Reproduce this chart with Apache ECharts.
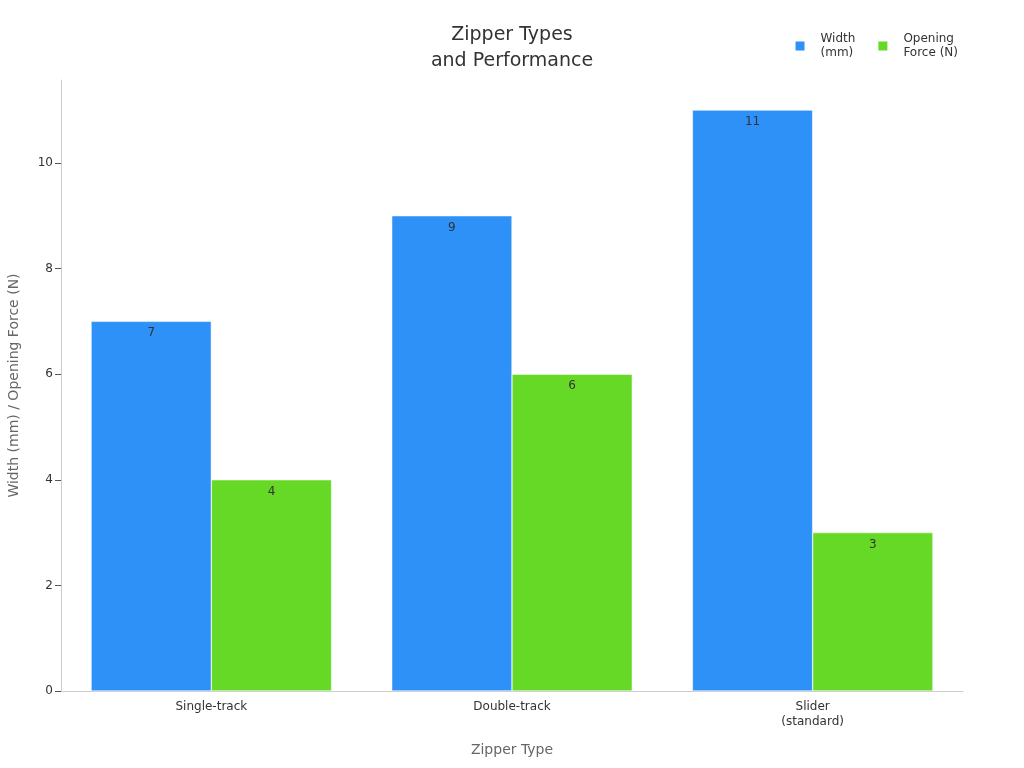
<!DOCTYPE html>
<html>
<head>
<meta charset="utf-8">
<script src="https://cdn.jsdelivr.net/npm/echarts@6/dist/echarts.min.js"></script>
<style>
  html, body { margin: 0; padding: 0; background: #fff; }
  #grafica { width: 1024px; height: 768px; }
</style>
</head>
<body>
<div id="grafica"></div>
<script>
let categorias = ['Single-track', 'Double-track', 'Slider\n(standard)'];
let anchos = [7, 9, 11];
let fuerzas = [4, 6, 3];
let ticksY = [0, 2, 4, 6, 8, 10];

let chartDom = document.getElementById('grafica');
let myChart = echarts.init(chartDom, null, { renderer: 'canvas' });

let etiqueta = {
  show: true,
  position: 'insideTop',
  distance: 6,
  color: '#333',
  fontSize: 12
};

let option = {
  textStyle: { fontFamily: 'DejaVu Sans' },
  animation: false,
  title: {
    text: 'Zipper Types\nand Performance',
    left: 'center',
    top: 17,
    textStyle: { fontSize: 19, fontWeight: 'normal', color: '#333', lineHeight: 26 }
  },
  legend: {
    top: 27,
    right: 61,
    icon: 'rect',
    itemWidth: 11,
    itemHeight: 11,
    itemGap: 21,
    textStyle: { fontSize: 12, color: '#333', lineHeight: 14, padding: [0, 0, 0, 10] },
    data: ['Width\n(mm)', 'Opening\nForce (N)']
  },
  grid: { left: 61, right: 61, top: 80, bottom: 77, outerBoundsMode: 'none' },
  xAxis: {
    type: 'category',
    data: categorias,
    name: 'Zipper Type',
    nameLocation: 'middle',
    nameGap: 52,
    nameTextStyle: { fontSize: 14, color: '#666' },
    axisLine: { lineStyle: { color: '#ccc' } },
    axisTick: { alignWithLabel: true, length: 6, lineStyle: { color: '#666' } },
    axisLabel: { color: '#333', fontSize: 12, lineHeight: 15 }
  },
  yAxis: {
    type: 'value',
    min: 0,
    max: 11.57,
    name: 'Width (mm) / Opening Force (N)',
    nameLocation: 'middle',
    nameGap: 40,
    nameTextStyle: { fontSize: 14, color: '#666' },
    splitLine: { show: false },
    axisLine: { show: true, lineStyle: { color: '#ccc' } },
    axisTick: { show: true, length: 6, customValues: ticksY, lineStyle: { color: '#555' } },
    axisLabel: { customValues: ticksY, color: '#333', fontSize: 12, margin: 8 }
  },
  series: [
    {
      name: 'Width\n(mm)',
      type: 'bar',
      data: anchos,
      barGap: '0%',
      barCategoryGap: '20%',
      itemStyle: { color: '#2E91F7', borderColor: '#fff', borderWidth: 0.5 },
      label: etiqueta
    },
    {
      name: 'Opening\nForce (N)',
      type: 'bar',
      data: fuerzas,
      itemStyle: { color: '#66D926', borderColor: '#fff', borderWidth: 0.5 },
      label: etiqueta
    }
  ]
};

myChart.setOption(option);
</script>
</body>
</html>
